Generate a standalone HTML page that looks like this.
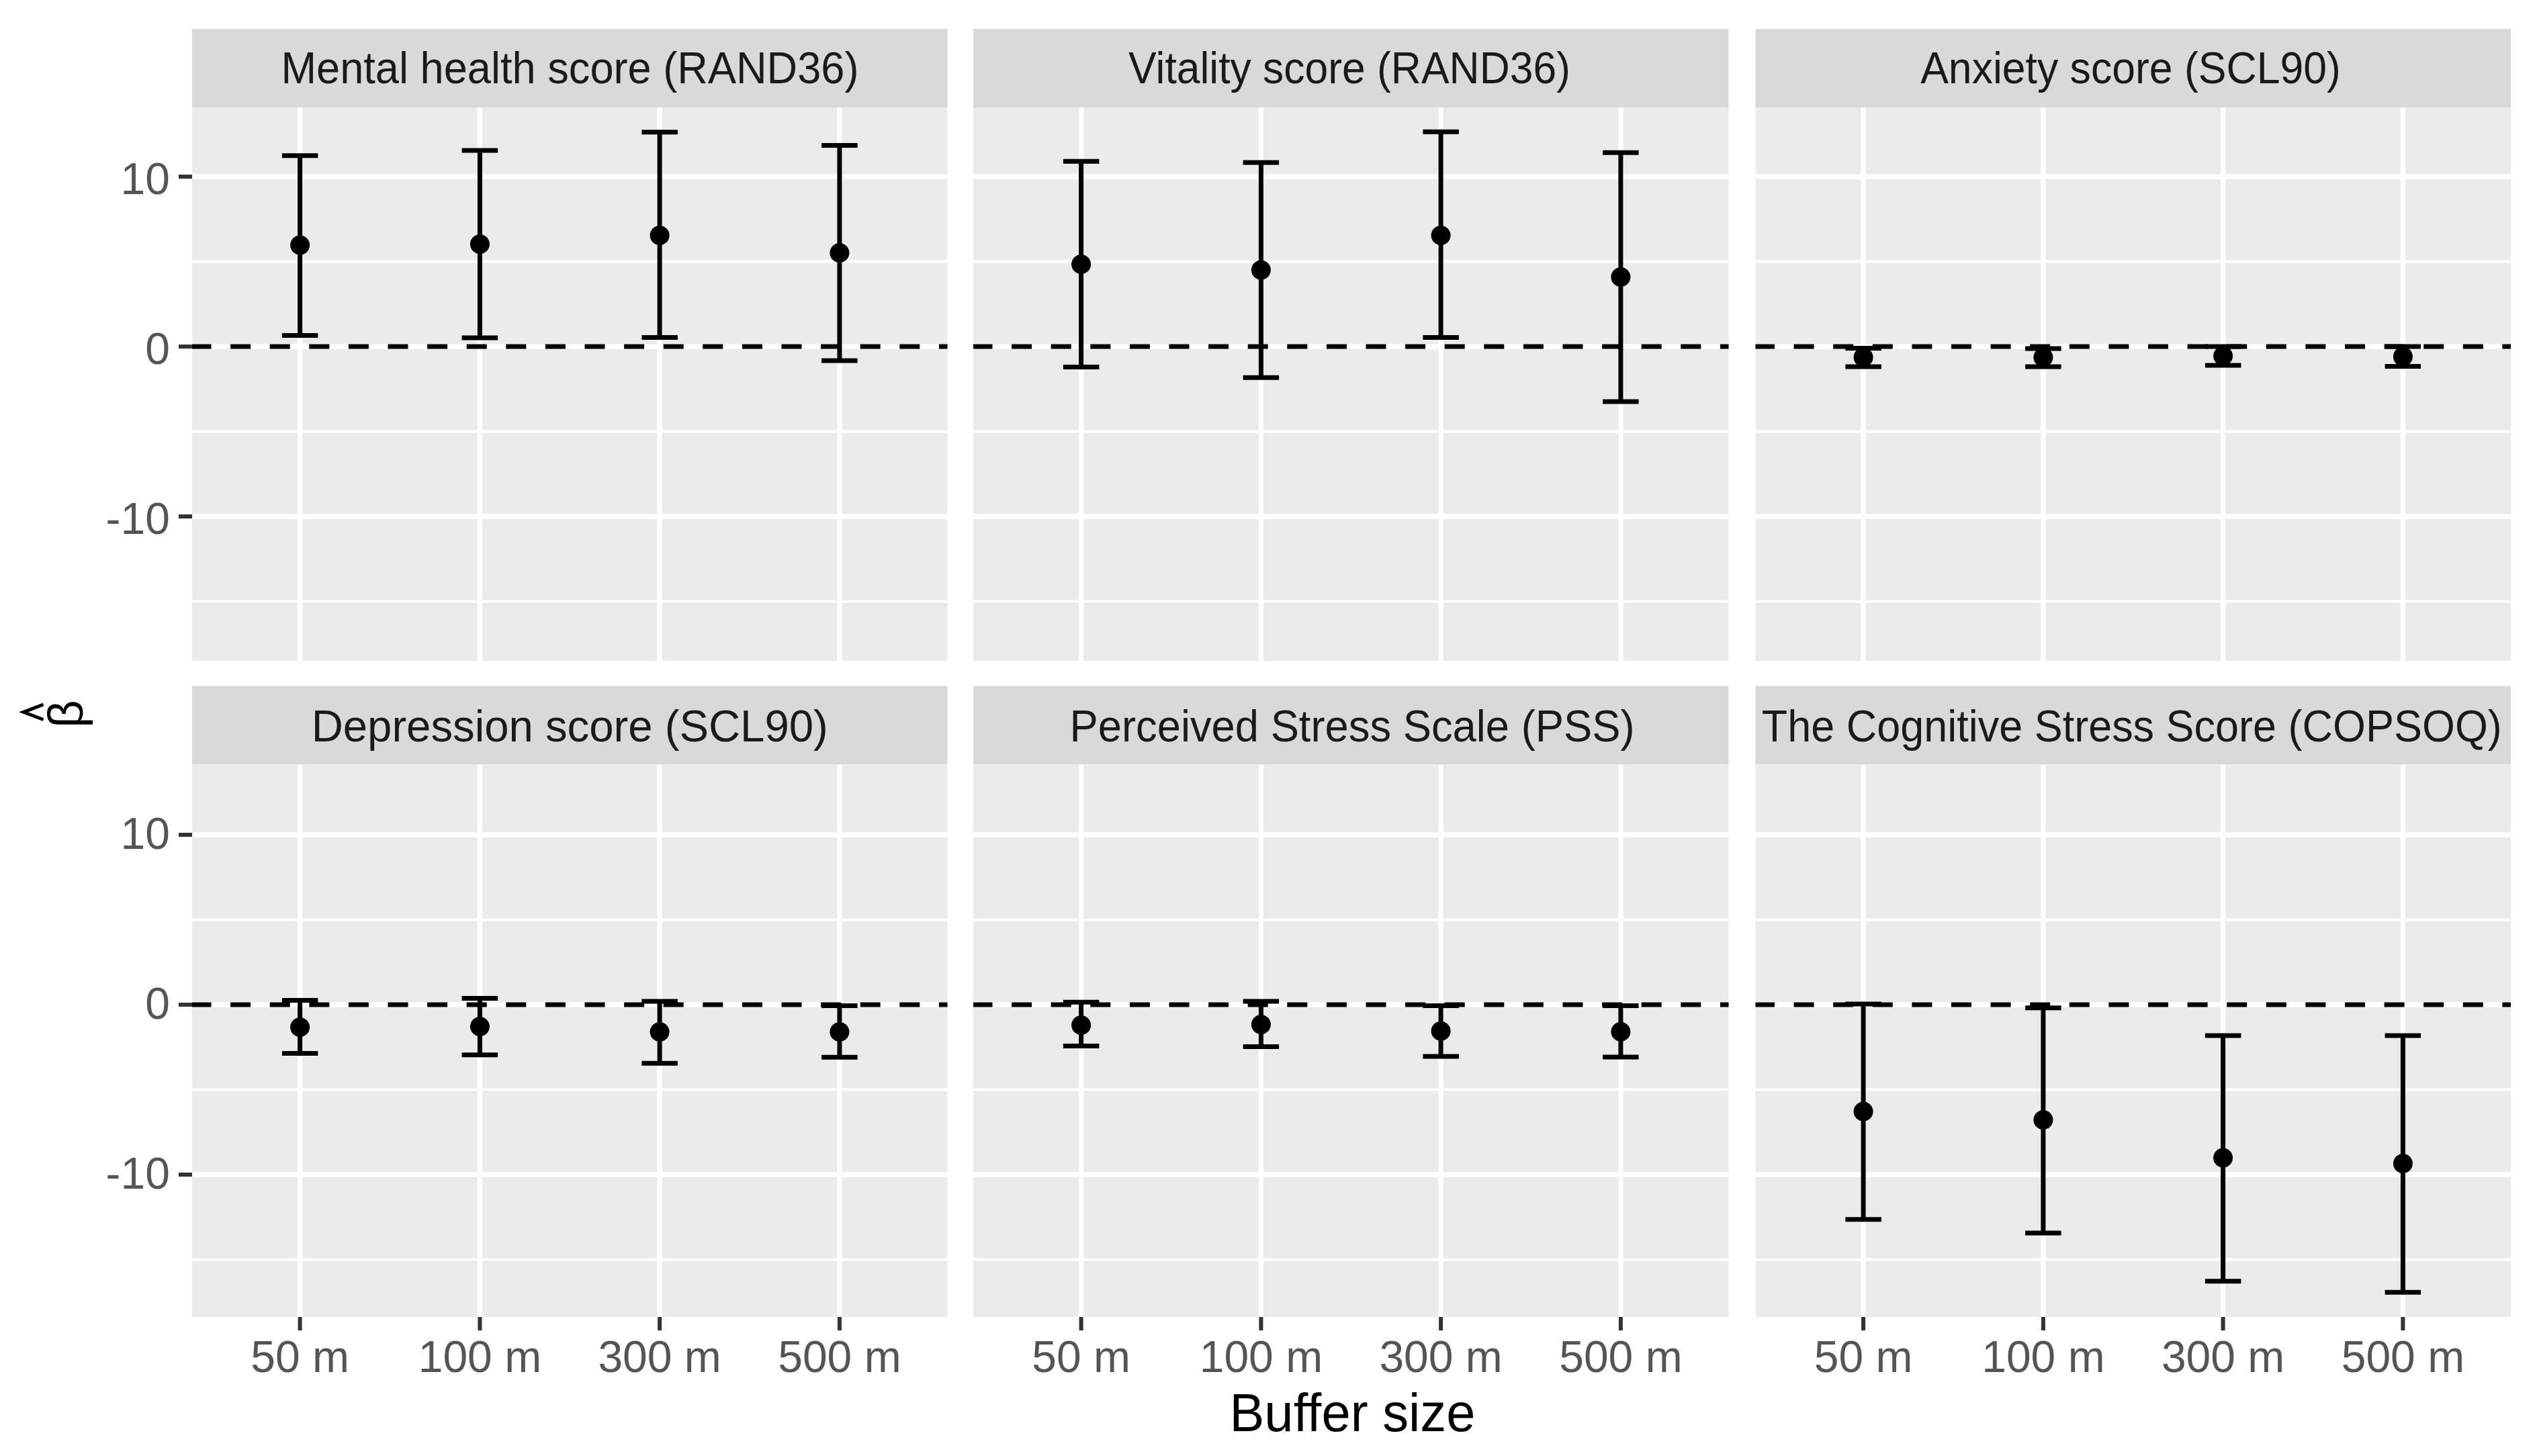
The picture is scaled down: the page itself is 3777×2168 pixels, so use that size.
<!DOCTYPE html>
<html><head><meta charset="utf-8"><style>html,body{margin:0;padding:0;background:#fff;overflow:hidden}</style></head>
<body>
<svg width="3777" height="2168" viewBox="0 0 3777 2168" style="display:block">
<rect x="0" y="0" width="3777" height="2168" fill="#ffffff"/>
<rect x="286" y="43" width="1124.5" height="117" fill="#d9d9d9"/>
<rect x="286" y="160" width="1124.5" height="824" fill="#ebebeb"/>
<line x1="286" x2="1410.5" y1="389.5" y2="389.5" stroke="#ffffff" stroke-width="3.8"/>
<line x1="286" x2="1410.5" y1="642.5" y2="642.5" stroke="#ffffff" stroke-width="3.8"/>
<line x1="286" x2="1410.5" y1="895.5" y2="895.5" stroke="#ffffff" stroke-width="3.8"/>
<line x1="286" x2="1410.5" y1="263.0" y2="263.0" stroke="#ffffff" stroke-width="7.3"/>
<line x1="286" x2="1410.5" y1="516.0" y2="516.0" stroke="#ffffff" stroke-width="7.3"/>
<line x1="286" x2="1410.5" y1="769.0" y2="769.0" stroke="#ffffff" stroke-width="7.3"/>
<line x1="446.6" x2="446.6" y1="160" y2="984" stroke="#ffffff" stroke-width="7.3"/>
<line x1="714.4" x2="714.4" y1="160" y2="984" stroke="#ffffff" stroke-width="7.3"/>
<line x1="982.1" x2="982.1" y1="160" y2="984" stroke="#ffffff" stroke-width="7.3"/>
<line x1="1249.9" x2="1249.9" y1="160" y2="984" stroke="#ffffff" stroke-width="7.3"/>
<line x1="286" x2="1410.5" y1="516.0" y2="516.0" stroke="#000000" stroke-width="7.0" stroke-dasharray="30 28.6" stroke-dashoffset="1.5"/>
<path d="M419.9 231.8H473.4M446.6 231.8V499.6M419.9 499.6H473.4" stroke="#000000" stroke-width="7.0" fill="none"/>
<circle cx="446.6" cy="365.1" r="14.5" fill="#000000"/>
<path d="M687.6 223.9H741.1M714.4 223.9V503M687.6 503H741.1" stroke="#000000" stroke-width="7.0" fill="none"/>
<circle cx="714.4" cy="363.4" r="14.5" fill="#000000"/>
<path d="M955.4 196.7H1008.9M982.1 196.7V502.4M955.4 502.4H1008.9" stroke="#000000" stroke-width="7.0" fill="none"/>
<circle cx="982.1" cy="350.4" r="14.5" fill="#000000"/>
<path d="M1223.1 216.5H1276.6M1249.9 216.5V536.9M1223.1 536.9H1276.6" stroke="#000000" stroke-width="7.0" fill="none"/>
<circle cx="1249.9" cy="376.4" r="14.5" fill="#000000"/>
<text x="848.5" y="124" text-anchor="middle" font-family="Liberation Sans" font-size="67" fill="#1a1a1a" textLength="860.1" lengthAdjust="spacingAndGlyphs">Mental health score (RAND36)</text>
<rect x="1449" y="43" width="1124.5" height="117" fill="#d9d9d9"/>
<rect x="1449" y="160" width="1124.5" height="824" fill="#ebebeb"/>
<line x1="1449" x2="2573.5" y1="389.5" y2="389.5" stroke="#ffffff" stroke-width="3.8"/>
<line x1="1449" x2="2573.5" y1="642.5" y2="642.5" stroke="#ffffff" stroke-width="3.8"/>
<line x1="1449" x2="2573.5" y1="895.5" y2="895.5" stroke="#ffffff" stroke-width="3.8"/>
<line x1="1449" x2="2573.5" y1="263.0" y2="263.0" stroke="#ffffff" stroke-width="7.3"/>
<line x1="1449" x2="2573.5" y1="516.0" y2="516.0" stroke="#ffffff" stroke-width="7.3"/>
<line x1="1449" x2="2573.5" y1="769.0" y2="769.0" stroke="#ffffff" stroke-width="7.3"/>
<line x1="1609.6" x2="1609.6" y1="160" y2="984" stroke="#ffffff" stroke-width="7.3"/>
<line x1="1877.4" x2="1877.4" y1="160" y2="984" stroke="#ffffff" stroke-width="7.3"/>
<line x1="2145.1" x2="2145.1" y1="160" y2="984" stroke="#ffffff" stroke-width="7.3"/>
<line x1="2412.9" x2="2412.9" y1="160" y2="984" stroke="#ffffff" stroke-width="7.3"/>
<line x1="1449" x2="2573.5" y1="516.0" y2="516.0" stroke="#000000" stroke-width="7.0" stroke-dasharray="30 28.6" stroke-dashoffset="1.5"/>
<path d="M1582.9 240.2H1636.4M1609.6 240.2V546.5M1582.9 546.5H1636.4" stroke="#000000" stroke-width="7.0" fill="none"/>
<circle cx="1609.6" cy="393.4" r="14.5" fill="#000000"/>
<path d="M1850.6 242H1904.1M1877.4 242V562.3M1850.6 562.3H1904.1" stroke="#000000" stroke-width="7.0" fill="none"/>
<circle cx="1877.4" cy="401.9" r="14.5" fill="#000000"/>
<path d="M2118.4 196.2H2171.9M2145.1 196.2V502.4M2118.4 502.4H2171.9" stroke="#000000" stroke-width="7.0" fill="none"/>
<circle cx="2145.1" cy="350.4" r="14.5" fill="#000000"/>
<path d="M2386.1 227.2H2439.6M2412.9 227.2V598M2386.1 598H2439.6" stroke="#000000" stroke-width="7.0" fill="none"/>
<circle cx="2412.9" cy="412.6" r="14.5" fill="#000000"/>
<text x="2009.0" y="124" text-anchor="middle" font-family="Liberation Sans" font-size="67" fill="#1a1a1a" textLength="657.9" lengthAdjust="spacingAndGlyphs">Vitality score (RAND36)</text>
<rect x="2613.5" y="43" width="1124.5" height="117" fill="#d9d9d9"/>
<rect x="2613.5" y="160" width="1124.5" height="824" fill="#ebebeb"/>
<line x1="2613.5" x2="3738.0" y1="389.5" y2="389.5" stroke="#ffffff" stroke-width="3.8"/>
<line x1="2613.5" x2="3738.0" y1="642.5" y2="642.5" stroke="#ffffff" stroke-width="3.8"/>
<line x1="2613.5" x2="3738.0" y1="895.5" y2="895.5" stroke="#ffffff" stroke-width="3.8"/>
<line x1="2613.5" x2="3738.0" y1="263.0" y2="263.0" stroke="#ffffff" stroke-width="7.3"/>
<line x1="2613.5" x2="3738.0" y1="516.0" y2="516.0" stroke="#ffffff" stroke-width="7.3"/>
<line x1="2613.5" x2="3738.0" y1="769.0" y2="769.0" stroke="#ffffff" stroke-width="7.3"/>
<line x1="2774.1" x2="2774.1" y1="160" y2="984" stroke="#ffffff" stroke-width="7.3"/>
<line x1="3041.9" x2="3041.9" y1="160" y2="984" stroke="#ffffff" stroke-width="7.3"/>
<line x1="3309.6" x2="3309.6" y1="160" y2="984" stroke="#ffffff" stroke-width="7.3"/>
<line x1="3577.4" x2="3577.4" y1="160" y2="984" stroke="#ffffff" stroke-width="7.3"/>
<line x1="2613.5" x2="3738.0" y1="516.0" y2="516.0" stroke="#000000" stroke-width="7.0" stroke-dasharray="30 28.6" stroke-dashoffset="1.5"/>
<path d="M2747.4 518.5H2800.9M2774.1 518.5V546M2747.4 546H2800.9" stroke="#000000" stroke-width="7.0" fill="none"/>
<circle cx="2774.1" cy="532" r="14.5" fill="#000000"/>
<path d="M3015.1 519H3068.6M3041.9 519V546M3015.1 546H3068.6" stroke="#000000" stroke-width="7.0" fill="none"/>
<circle cx="3041.9" cy="532" r="14.5" fill="#000000"/>
<path d="M3282.9 516H3336.4M3309.6 516V544M3282.9 544H3336.4" stroke="#000000" stroke-width="7.0" fill="none"/>
<circle cx="3309.6" cy="530" r="14.5" fill="#000000"/>
<path d="M3550.6 516H3604.1M3577.4 516V545.5M3550.6 545.5H3604.1" stroke="#000000" stroke-width="7.0" fill="none"/>
<circle cx="3577.4" cy="531" r="14.5" fill="#000000"/>
<text x="3172.0" y="124" text-anchor="middle" font-family="Liberation Sans" font-size="67" fill="#1a1a1a" textLength="625.7" lengthAdjust="spacingAndGlyphs">Anxiety score (SCL90)</text>
<line x1="266" x2="286" y1="263.0" y2="263.0" stroke="#333333" stroke-width="6"/>
<text x="253" y="288.5" text-anchor="end" font-family="Liberation Sans" font-size="66" fill="#555555">10</text>
<line x1="266" x2="286" y1="516.0" y2="516.0" stroke="#333333" stroke-width="6"/>
<text x="253" y="541.5" text-anchor="end" font-family="Liberation Sans" font-size="66" fill="#555555">0</text>
<line x1="266" x2="286" y1="769.0" y2="769.0" stroke="#333333" stroke-width="6"/>
<text x="253" y="794.5" text-anchor="end" font-family="Liberation Sans" font-size="66" fill="#555555">-10</text>
<rect x="286" y="1021.5" width="1124.5" height="117.0" fill="#d9d9d9"/>
<rect x="286" y="1138.5" width="1124.5" height="822.5" fill="#ebebeb"/>
<line x1="286" x2="1410.5" y1="1369.5" y2="1369.5" stroke="#ffffff" stroke-width="3.8"/>
<line x1="286" x2="1410.5" y1="1622.5" y2="1622.5" stroke="#ffffff" stroke-width="3.8"/>
<line x1="286" x2="1410.5" y1="1875.5" y2="1875.5" stroke="#ffffff" stroke-width="3.8"/>
<line x1="286" x2="1410.5" y1="1243.0" y2="1243.0" stroke="#ffffff" stroke-width="7.3"/>
<line x1="286" x2="1410.5" y1="1496.0" y2="1496.0" stroke="#ffffff" stroke-width="7.3"/>
<line x1="286" x2="1410.5" y1="1749.0" y2="1749.0" stroke="#ffffff" stroke-width="7.3"/>
<line x1="446.6" x2="446.6" y1="1138.5" y2="1961" stroke="#ffffff" stroke-width="7.3"/>
<line x1="714.4" x2="714.4" y1="1138.5" y2="1961" stroke="#ffffff" stroke-width="7.3"/>
<line x1="982.1" x2="982.1" y1="1138.5" y2="1961" stroke="#ffffff" stroke-width="7.3"/>
<line x1="1249.9" x2="1249.9" y1="1138.5" y2="1961" stroke="#ffffff" stroke-width="7.3"/>
<line x1="286" x2="1410.5" y1="1496.0" y2="1496.0" stroke="#000000" stroke-width="7.0" stroke-dasharray="30 28.6" stroke-dashoffset="1.5"/>
<path d="M419.9 1489.6H473.4M446.6 1489.6V1568.6M419.9 1568.6H473.4" stroke="#000000" stroke-width="7.0" fill="none"/>
<circle cx="446.6" cy="1529.5" r="14.5" fill="#000000"/>
<path d="M687.6 1486.5H741.1M714.4 1486.5V1570.8M687.6 1570.8H741.1" stroke="#000000" stroke-width="7.0" fill="none"/>
<circle cx="714.4" cy="1528.6" r="14.5" fill="#000000"/>
<path d="M955.4 1491H1008.9M982.1 1491V1583.2M955.4 1583.2H1008.9" stroke="#000000" stroke-width="7.0" fill="none"/>
<circle cx="982.1" cy="1536.6" r="14.5" fill="#000000"/>
<path d="M1223.1 1497.6H1276.6M1249.9 1497.6V1574.3M1223.1 1574.3H1276.6" stroke="#000000" stroke-width="7.0" fill="none"/>
<circle cx="1249.9" cy="1536.6" r="14.5" fill="#000000"/>
<text x="848.2" y="1104.0" text-anchor="middle" font-family="Liberation Sans" font-size="67" fill="#1a1a1a" textLength="769.1" lengthAdjust="spacingAndGlyphs">Depression score (SCL90)</text>
<rect x="1449" y="1021.5" width="1124.5" height="117.0" fill="#d9d9d9"/>
<rect x="1449" y="1138.5" width="1124.5" height="822.5" fill="#ebebeb"/>
<line x1="1449" x2="2573.5" y1="1369.5" y2="1369.5" stroke="#ffffff" stroke-width="3.8"/>
<line x1="1449" x2="2573.5" y1="1622.5" y2="1622.5" stroke="#ffffff" stroke-width="3.8"/>
<line x1="1449" x2="2573.5" y1="1875.5" y2="1875.5" stroke="#ffffff" stroke-width="3.8"/>
<line x1="1449" x2="2573.5" y1="1243.0" y2="1243.0" stroke="#ffffff" stroke-width="7.3"/>
<line x1="1449" x2="2573.5" y1="1496.0" y2="1496.0" stroke="#ffffff" stroke-width="7.3"/>
<line x1="1449" x2="2573.5" y1="1749.0" y2="1749.0" stroke="#ffffff" stroke-width="7.3"/>
<line x1="1609.6" x2="1609.6" y1="1138.5" y2="1961" stroke="#ffffff" stroke-width="7.3"/>
<line x1="1877.4" x2="1877.4" y1="1138.5" y2="1961" stroke="#ffffff" stroke-width="7.3"/>
<line x1="2145.1" x2="2145.1" y1="1138.5" y2="1961" stroke="#ffffff" stroke-width="7.3"/>
<line x1="2412.9" x2="2412.9" y1="1138.5" y2="1961" stroke="#ffffff" stroke-width="7.3"/>
<line x1="1449" x2="2573.5" y1="1496.0" y2="1496.0" stroke="#000000" stroke-width="7.0" stroke-dasharray="30 28.6" stroke-dashoffset="1.5"/>
<path d="M1582.9 1492.3H1636.4M1609.6 1492.3V1557.5M1582.9 1557.5H1636.4" stroke="#000000" stroke-width="7.0" fill="none"/>
<circle cx="1609.6" cy="1526.4" r="14.5" fill="#000000"/>
<path d="M1850.6 1491H1904.1M1877.4 1491V1558.4M1850.6 1558.4H1904.1" stroke="#000000" stroke-width="7.0" fill="none"/>
<circle cx="1877.4" cy="1525.5" r="14.5" fill="#000000"/>
<path d="M2118.4 1497.6H2171.9M2145.1 1497.6V1573M2118.4 1573H2171.9" stroke="#000000" stroke-width="7.0" fill="none"/>
<circle cx="2145.1" cy="1535.3" r="14.5" fill="#000000"/>
<path d="M2386.1 1497.6H2439.6M2412.9 1497.6V1573.9M2386.1 1573.9H2439.6" stroke="#000000" stroke-width="7.0" fill="none"/>
<circle cx="2412.9" cy="1536.2" r="14.5" fill="#000000"/>
<text x="2013.0" y="1104.0" text-anchor="middle" font-family="Liberation Sans" font-size="67" fill="#1a1a1a" textLength="841.0" lengthAdjust="spacingAndGlyphs">Perceived Stress Scale (PSS)</text>
<rect x="2613.5" y="1021.5" width="1124.5" height="117.0" fill="#d9d9d9"/>
<rect x="2613.5" y="1138.5" width="1124.5" height="822.5" fill="#ebebeb"/>
<line x1="2613.5" x2="3738.0" y1="1369.5" y2="1369.5" stroke="#ffffff" stroke-width="3.8"/>
<line x1="2613.5" x2="3738.0" y1="1622.5" y2="1622.5" stroke="#ffffff" stroke-width="3.8"/>
<line x1="2613.5" x2="3738.0" y1="1875.5" y2="1875.5" stroke="#ffffff" stroke-width="3.8"/>
<line x1="2613.5" x2="3738.0" y1="1243.0" y2="1243.0" stroke="#ffffff" stroke-width="7.3"/>
<line x1="2613.5" x2="3738.0" y1="1496.0" y2="1496.0" stroke="#ffffff" stroke-width="7.3"/>
<line x1="2613.5" x2="3738.0" y1="1749.0" y2="1749.0" stroke="#ffffff" stroke-width="7.3"/>
<line x1="2774.1" x2="2774.1" y1="1138.5" y2="1961" stroke="#ffffff" stroke-width="7.3"/>
<line x1="3041.9" x2="3041.9" y1="1138.5" y2="1961" stroke="#ffffff" stroke-width="7.3"/>
<line x1="3309.6" x2="3309.6" y1="1138.5" y2="1961" stroke="#ffffff" stroke-width="7.3"/>
<line x1="3577.4" x2="3577.4" y1="1138.5" y2="1961" stroke="#ffffff" stroke-width="7.3"/>
<line x1="2613.5" x2="3738.0" y1="1496.0" y2="1496.0" stroke="#000000" stroke-width="7.0" stroke-dasharray="30 28.6" stroke-dashoffset="1.5"/>
<path d="M2747.4 1495.1H2800.9M2774.1 1495.1V1815.7M2747.4 1815.7H2800.9" stroke="#000000" stroke-width="7.0" fill="none"/>
<circle cx="2774.1" cy="1655.1" r="14.5" fill="#000000"/>
<path d="M3015.1 1500.8H3068.6M3041.9 1500.8V1836M3015.1 1836H3068.6" stroke="#000000" stroke-width="7.0" fill="none"/>
<circle cx="3041.9" cy="1667.5" r="14.5" fill="#000000"/>
<path d="M3282.9 1542H3336.4M3309.6 1542V1907.8M3282.9 1907.8H3336.4" stroke="#000000" stroke-width="7.0" fill="none"/>
<circle cx="3309.6" cy="1724" r="14.5" fill="#000000"/>
<path d="M3550.6 1542H3604.1M3577.4 1542V1924.2M3550.6 1924.2H3604.1" stroke="#000000" stroke-width="7.0" fill="none"/>
<circle cx="3577.4" cy="1732.5" r="14.5" fill="#000000"/>
<text x="3173.8" y="1104.0" text-anchor="middle" font-family="Liberation Sans" font-size="67" fill="#1a1a1a" textLength="1102.1" lengthAdjust="spacingAndGlyphs">The Cognitive Stress Score (COPSOQ)</text>
<line x1="266" x2="286" y1="1243.0" y2="1243.0" stroke="#333333" stroke-width="6"/>
<text x="253" y="1263.5" text-anchor="end" font-family="Liberation Sans" font-size="66" fill="#555555">10</text>
<line x1="266" x2="286" y1="1496.0" y2="1496.0" stroke="#333333" stroke-width="6"/>
<text x="253" y="1516.5" text-anchor="end" font-family="Liberation Sans" font-size="66" fill="#555555">0</text>
<line x1="266" x2="286" y1="1749.0" y2="1749.0" stroke="#333333" stroke-width="6"/>
<text x="253" y="1769.5" text-anchor="end" font-family="Liberation Sans" font-size="66" fill="#555555">-10</text>
<line x1="446.6" x2="446.6" y1="1961" y2="1981" stroke="#333333" stroke-width="6"/>
<text x="446.6" y="2043" text-anchor="middle" font-family="Liberation Sans" font-size="66" fill="#555555">50 m</text>
<line x1="714.4" x2="714.4" y1="1961" y2="1981" stroke="#333333" stroke-width="6"/>
<text x="714.4" y="2043" text-anchor="middle" font-family="Liberation Sans" font-size="66" fill="#555555">100 m</text>
<line x1="982.1" x2="982.1" y1="1961" y2="1981" stroke="#333333" stroke-width="6"/>
<text x="982.1" y="2043" text-anchor="middle" font-family="Liberation Sans" font-size="66" fill="#555555">300 m</text>
<line x1="1249.9" x2="1249.9" y1="1961" y2="1981" stroke="#333333" stroke-width="6"/>
<text x="1249.9" y="2043" text-anchor="middle" font-family="Liberation Sans" font-size="66" fill="#555555">500 m</text>
<line x1="1609.6" x2="1609.6" y1="1961" y2="1981" stroke="#333333" stroke-width="6"/>
<text x="1609.6" y="2043" text-anchor="middle" font-family="Liberation Sans" font-size="66" fill="#555555">50 m</text>
<line x1="1877.4" x2="1877.4" y1="1961" y2="1981" stroke="#333333" stroke-width="6"/>
<text x="1877.4" y="2043" text-anchor="middle" font-family="Liberation Sans" font-size="66" fill="#555555">100 m</text>
<line x1="2145.1" x2="2145.1" y1="1961" y2="1981" stroke="#333333" stroke-width="6"/>
<text x="2145.1" y="2043" text-anchor="middle" font-family="Liberation Sans" font-size="66" fill="#555555">300 m</text>
<line x1="2412.9" x2="2412.9" y1="1961" y2="1981" stroke="#333333" stroke-width="6"/>
<text x="2412.9" y="2043" text-anchor="middle" font-family="Liberation Sans" font-size="66" fill="#555555">500 m</text>
<line x1="2774.1" x2="2774.1" y1="1961" y2="1981" stroke="#333333" stroke-width="6"/>
<text x="2774.1" y="2043" text-anchor="middle" font-family="Liberation Sans" font-size="66" fill="#555555">50 m</text>
<line x1="3041.9" x2="3041.9" y1="1961" y2="1981" stroke="#333333" stroke-width="6"/>
<text x="3041.9" y="2043" text-anchor="middle" font-family="Liberation Sans" font-size="66" fill="#555555">100 m</text>
<line x1="3309.6" x2="3309.6" y1="1961" y2="1981" stroke="#333333" stroke-width="6"/>
<text x="3309.6" y="2043" text-anchor="middle" font-family="Liberation Sans" font-size="66" fill="#555555">300 m</text>
<line x1="3577.4" x2="3577.4" y1="1961" y2="1981" stroke="#333333" stroke-width="6"/>
<text x="3577.4" y="2043" text-anchor="middle" font-family="Liberation Sans" font-size="66" fill="#555555">500 m</text>
<text x="2013.5" y="2131" text-anchor="middle" font-family="Liberation Sans" font-size="80" fill="#000000" textLength="366" lengthAdjust="spacingAndGlyphs">Buffer size</text>
<text transform="translate(122.5 1063) rotate(-90)" text-anchor="middle" font-family="Liberation Sans" font-size="72" fill="#000000">β</text>
<polyline points="64.5,1049 35,1060.3 64.5,1071.5" fill="none" stroke="#000000" stroke-width="5"/>
</svg>
</body></html>
